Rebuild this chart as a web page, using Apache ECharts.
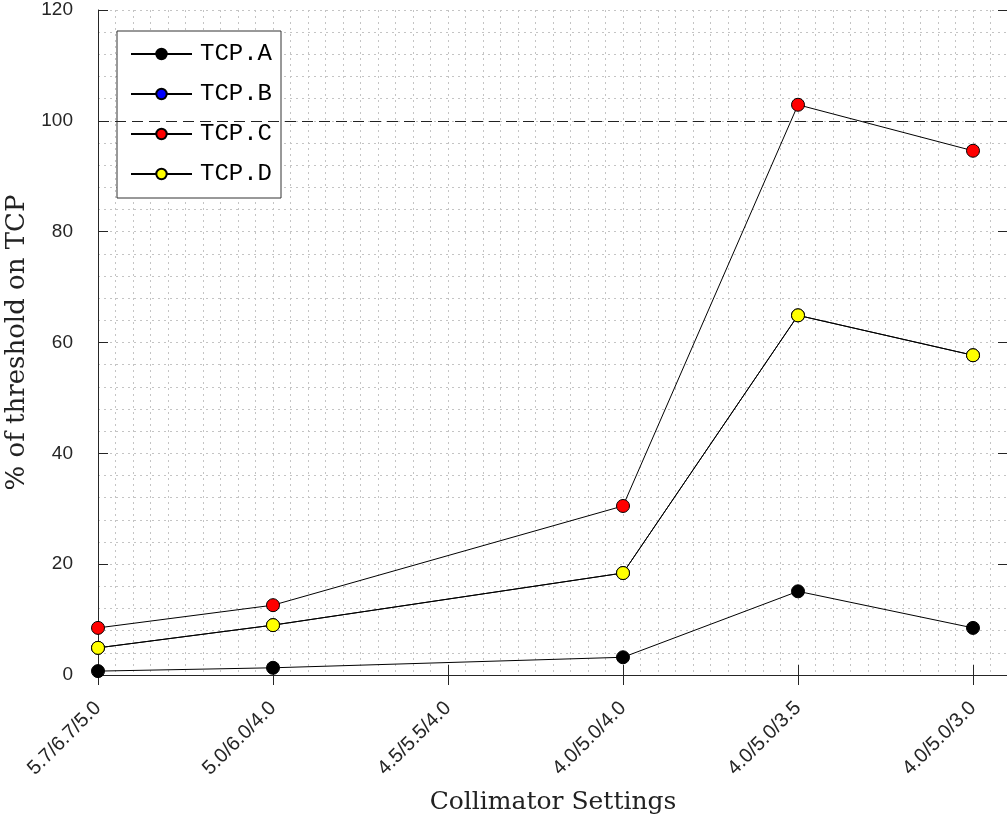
<!DOCTYPE html>
<html>
<head>
<meta charset="utf-8">
<script src="https://cdn.jsdelivr.net/npm/echarts@6/dist/echarts.min.js"></script>
<style>
  html, body { margin: 0; padding: 0; background: #fff; }
  #chart { width: 1007px; height: 820px; }
</style>
</head>
<body>
<div id="chart"></div>
<script>
// collimator settings on the x axis, null = no measurement
const settings = ['5.7/6.7/5.0', '5.0/6.0/4.0', '4.5/5.5/4.0', '4.0/5.0/4.0', '4.0/5.0/3.5', '4.0/5.0/3.0']
const tcpA = [0.7, 1.3, null, 3.2, 15.1, 8.5]
const tcpB = [4.9, 9.0, null, 18.4, 64.9, 57.7]
const tcpC = [8.5, 12.6, null, 30.5, 102.9, 94.6]
const tcpD = [4.9, 9.0, null, 18.4, 64.9, 57.7]
const yTicks = [0, 20, 40, 60, 80, 100, 120]
const threshold = 100

const axisColor = '#262626'
const gridLine = {show: true, lineStyle: {color: '#c4c4c4', width: 1, type: [2, 4]}}

function pairs(vals) {
    return vals.map((v, i) => [i + 1, v])
}

function makeSeries(name, vals, fill) {
    return {
        name: name,
        type: 'line',
        data: pairs(vals),
        connectNulls: true,
        symbol: 'circle',
        symbolSize: 13,
        lineStyle: {color: '#000', width: 1},
        itemStyle: {color: fill, borderColor: '#000', borderWidth: 1},
        emphasis: {disabled: true},
        animation: false
    }
}

const seriesC = makeSeries('TCP.C', tcpC, '#ff0000')
seriesC.markLine = {
    silent: true,
    symbol: 'none',
    label: {show: false},
    lineStyle: {color: '#222', width: 1.2, type: [11, 6]},
    data: [{yAxis: threshold}]
}

const chart = echarts.init(document.getElementById('chart'))
chart.setOption({
    backgroundColor: '#fff',
    animation: false,
    grid: {left: 98, top: 10, right: -1, bottom: 145, containLabel: false, outerBoundsMode: 'none'},
    legend: {
        orient: 'vertical',
        left: 117,
        top: 31,
        padding: [11, 9, 12, 13],
        itemWidth: 61,
        itemHeight: 13,
        itemGap: 16,
        backgroundColor: '#fff',
        borderColor: '#333',
        borderWidth: 1,
        textStyle: {fontFamily: 'Liberation Mono', fontSize: 24, color: '#000', padding: [0, 0, 0, 3]},
        data: ['TCP.A', 'TCP.B', 'TCP.C', 'TCP.D']
    },
    xAxis: [{
        type: 'value',
        min: 1,
        max: 6.2,
        interval: 1,
        name: 'Collimator Settings',
        nameLocation: 'middle',
        nameGap: 115,
        nameTextStyle: {fontFamily: 'DejaVu Serif', fontSize: 25, color: '#222'},
        axisLine: {show: true, lineStyle: {color: axisColor}},
        axisTick: {show: true, inside: true, length: 10, lineStyle: {color: axisColor}},
        axisLabel: {
            rotate: 45,
            margin: 30,
            fontFamily: 'Liberation Sans',
            fontSize: 20,
            color: '#262626',
            showMaxLabel: false,
            formatter: v => settings[Math.round(v) - 1] || ''
        },
        splitLine: gridLine,
        minorTick: {show: false, splitNumber: 10},
        minorSplitLine: gridLine
    }, {
        type: 'value',
        position: 'top',
        min: 1,
        max: 6.2,
        interval: 1,
        axisLine: {show: true, lineStyle: {color: axisColor}},
        axisTick: {show: true, inside: true, length: 10, lineStyle: {color: axisColor}},
        axisLabel: {show: false},
        splitLine: {show: false}
    }],
    yAxis: [{
        type: 'value',
        min: yTicks[0],
        max: yTicks[yTicks.length - 1],
        interval: 20,
        name: '% of threshold on TCP',
        nameLocation: 'middle',
        nameGap: 57,
        nameTextStyle: {fontFamily: 'DejaVu Serif', fontSize: 26, color: '#222'},
        axisLine: {show: true, lineStyle: {color: axisColor}},
        axisTick: {show: true, inside: true, length: 10, lineStyle: {color: axisColor}},
        axisLabel: {fontFamily: 'Liberation Sans', fontSize: 19, color: '#262626', margin: 25},
        splitLine: gridLine,
        minorTick: {show: false, splitNumber: 5},
        minorSplitLine: gridLine
    }, {
        type: 'value',
        position: 'right',
        min: yTicks[0],
        max: yTicks[yTicks.length - 1],
        interval: 20,
        axisLine: {show: true, lineStyle: {color: axisColor}},
        axisTick: {show: true, inside: true, length: 10, lineStyle: {color: axisColor}},
        axisLabel: {show: false},
        splitLine: {show: false}
    }],
    series: [
        makeSeries('TCP.A', tcpA, '#000000'),
        makeSeries('TCP.B', tcpB, '#0000ff'),
        seriesC,
        makeSeries('TCP.D', tcpD, '#ffff00')
    ]
})
</script>
</body>
</html>
